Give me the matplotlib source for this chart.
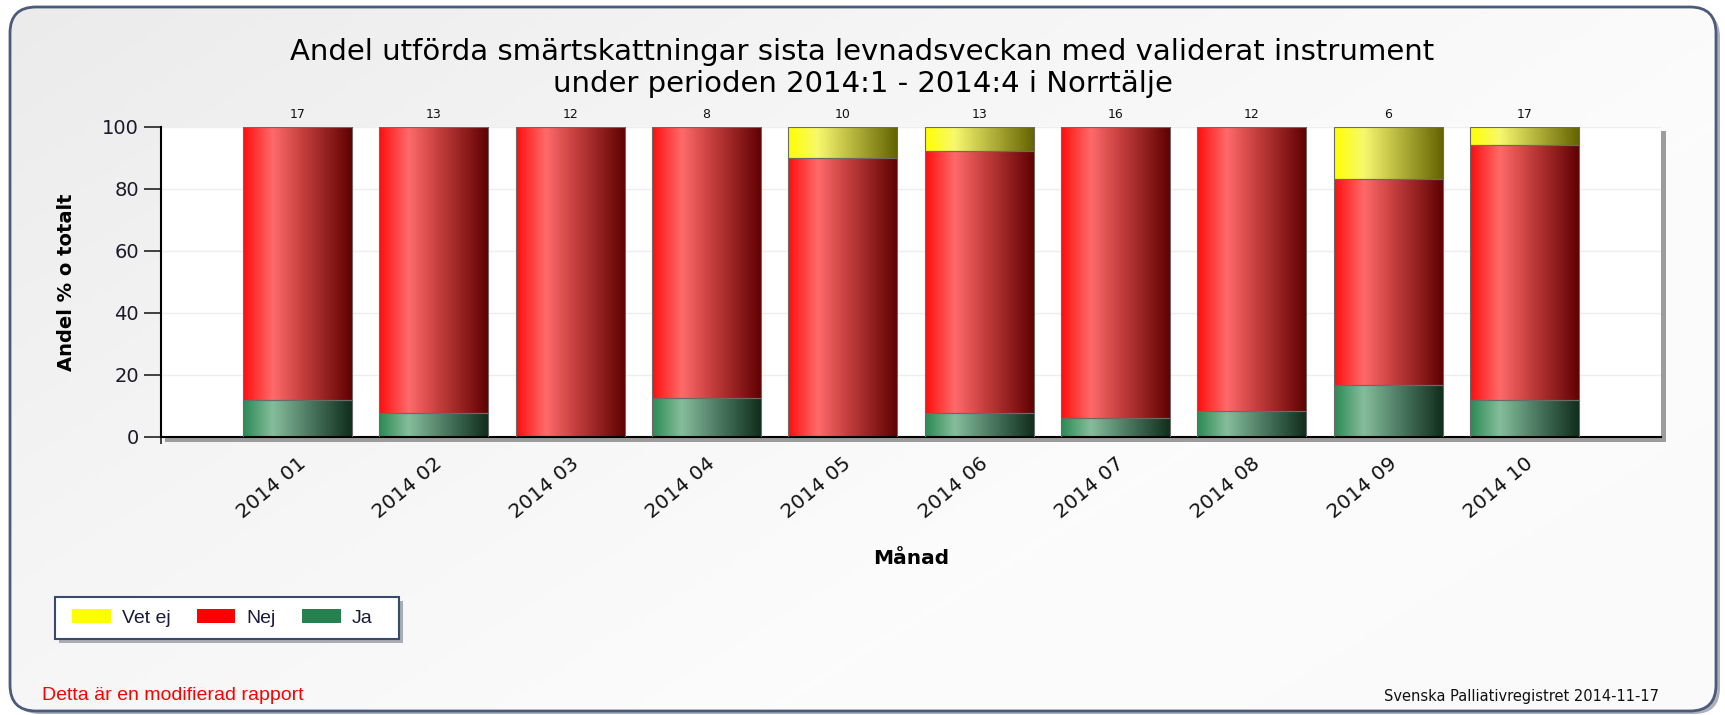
import matplotlib
matplotlib.use("Agg")
import matplotlib.pyplot as plt
import numpy as np
from matplotlib.colors import LinearSegmentedColormap
from matplotlib.patches import FancyBboxPatch, Rectangle, Patch

# data (share in % of all deaths per month)
months = ['2014 01', '2014 02', '2014 03', '2014 04', '2014 05',
          '2014 06', '2014 07', '2014 08', '2014 09', '2014 10']
n_total = [17, 13, 12, 8, 10, 13, 16, 12, 6, 17]
ja = [11.8, 7.7, 0, 12.5, 0, 7.7, 6.25, 8.3, 16.7, 11.8]
nej = [88.2, 92.3, 100, 87.5, 90, 84.6, 93.75, 91.7, 66.6, 82.3]
vet_ej = [0, 0, 0, 0, 10, 7.7, 0, 0, 16.7, 5.9]

W, H = 1725, 715
fig = plt.figure(figsize=(W / 100, H / 100), dpi=100)
fig.patch.set_facecolor('white')

# background frame with a soft gradient
bg = fig.add_axes([0, 0, 1, 1], zorder=0)
bg.axis('off')
shadow = FancyBboxPatch((14, 1), 1706, 703, boxstyle='round,pad=0,rounding_size=26',
                        fc='#8c919b', ec='none', alpha=0.7)
bg.add_patch(shadow)
frame = FancyBboxPatch((10, 4), 1706, 704, boxstyle='round,pad=0,rounding_size=26',
                       fc='none', ec='#4a5b7b', lw=2, zorder=3)
bg.add_patch(frame)
yy, xx = np.mgrid[0:1:200j, 0:1:400j]
shade = 0.6 * xx + 0.4 * yy
bg_cmap = LinearSegmentedColormap.from_list('bg', ['#ebebeb', '#f5f5f5', '#fcfcfc', '#fafafa'])
im = bg.imshow(shade, extent=(0, W, 0, H), origin='upper', cmap=bg_cmap,
               aspect='auto', zorder=1)
im.set_clip_path(frame)
# shadow behind the plot area
bg.add_patch(Rectangle((165, 273), 1501, 311, fc='#9c9c9c', ec='none', zorder=2))
# legend box with its shadow
bg.add_patch(Rectangle((59, 72), 344, 42, fc='#a8acb4', ec='none', zorder=2))
bg.add_patch(Rectangle((55, 76), 344, 42, fc='white', ec='#3a4a6a', lw=1.5, zorder=2.5))
bg.set_xlim(0, W)
bg.set_ylim(0, H)

ax = fig.add_axes([161 / W, 278 / H, 1500 / W, 310.3 / H], zorder=1)
ax.set_facecolor('white')

x = np.arange(len(months))
ja_arr = np.array(ja)
nej_arr = np.array(nej)
vet_arr = np.array(vet_ej)

b_ja = ax.bar(x, ja_arr, 0.8, color='#268050', zorder=2)
b_nej = ax.bar(x, nej_arr, 0.8, bottom=ja_arr, color='#ff0000', zorder=2)
b_vet = ax.bar(x, vet_arr, 0.8, bottom=ja_arr + nej_arr, color='#ffff00', zorder=2)

cm_red = LinearSegmentedColormap.from_list('r', [(0, '#ff0d0d'), (0.27, '#ff6a6a'),
                                                 (0.55, '#c43d3d'), (1, '#5e0000')])
cm_green = LinearSegmentedColormap.from_list('g', [(0, '#2a8a55'), (0.27, '#86bd9b'),
                                                   (0.6, '#4d7a62'), (1, '#0e2c1a')])
cm_yellow = LinearSegmentedColormap.from_list('y', [(0, '#ffff00'), (0.27, '#f8f86e'),
                                                    (0.6, '#b4b43c'), (1, '#626200')])
grad = np.linspace(0, 1, 256).reshape(1, -1)

for bars, cm in [(b_ja, cm_green), (b_nej, cm_red), (b_vet, cm_yellow)]:
    for p in bars:
        h = p.get_height()
        if h <= 0:
            continue
        x0, y0, w = p.get_x(), p.get_y(), p.get_width()
        ax.imshow(grad, extent=(x0, x0 + w, y0, y0 + h), cmap=cm, aspect='auto',
                  interpolation='bilinear', zorder=2.5)
        p.set_facecolor('none')
        p.set_edgecolor('#6a6a6a')
        p.set_linewidth(0.8)
        p.set_zorder(3)

# counts above bars
for i, n in enumerate(n_total):
    ax.annotate(str(n), (i, 100), xytext=(0, 9), textcoords='offset points',
                ha='center', va='center', fontsize=9, color='#111111',
                annotation_clip=False)

ax.set_xlim(-1, 10)
ax.set_ylim(0, 100)
ax.set_yticks([0, 20, 40, 60, 80, 100])
ax.yaxis.grid(True, color='#eeeeee', lw=1, zorder=0)
ax.set_axisbelow(True)

ax.set_xticks(x)
ax.set_xticklabels(months, rotation=40, ha='right', va='top', rotation_mode='anchor',
                   fontsize=14.5, color='#111111')
ax.set_xticks([-1, 1, 3, 5, 7, 9], minor=True)
ax.tick_params(axis='x', which='major', length=0, pad=12)
ax.tick_params(axis='x', which='minor', length=5, width=1.2, color='#222222')
ax.tick_params(axis='y', length=12, width=1.2, color='#222222', labelsize=14,
               labelcolor='#1a1a2a', pad=4)

for s in ['top', 'right']:
    ax.spines[s].set_visible(False)
ax.spines['left'].set_linewidth(1.5)
ax.spines['bottom'].set_linewidth(1.5)

ax.set_ylabel('Andel % o totalt', fontsize=14, fontweight='bold', va='center')
ax.yaxis.set_label_coords(-0.063, 0.5)
ax.set_xlabel('Månad', fontsize=14.5, fontweight='bold', va='center')
ax.xaxis.set_label_coords(0.5, -0.393)

fig.suptitle('Andel utförda smärtskattningar sista levnadsveckan med validerat instrument\n'
             'under perioden 2014:1 - 2014:4 i Norrtälje',
             x=0.5, y=1 - 68 / H, va='center', fontsize=21, linespacing=1.22)

handles = [Patch(fc='#ffff00', ec='none', label='Vet ej'),
           Patch(fc='#ff0000', ec='none', label='Nej'),
           Patch(fc='#268050', ec='none', label='Ja')]
leg = fig.legend(handles=handles, ncol=3, loc='center left',
                 bbox_to_anchor=(72 / W, 97 / H),
                 prop={'family': 'Liberation Sans', 'size': 14},
                 handlelength=2.0, handleheight=0.72, handletextpad=0.55,
                 columnspacing=1.35, borderpad=0, borderaxespad=0,
                 frameon=False)
for t in leg.get_texts():
    t.set_color('#1a1a40')

fig.text(42 / W, 1 - 695 / H, 'Detta är en modifierad rapport', color='#ff0000',
         fontsize=14, family='Liberation Sans', ha='left', va='center')
fig.text(1659 / W, 1 - 697 / H, 'Svenska Palliativregistret 2014-11-17', color='#111111',
         fontsize=10.5, ha='right', va='center')

fig.savefig('out.png', dpi=100, facecolor='white')
